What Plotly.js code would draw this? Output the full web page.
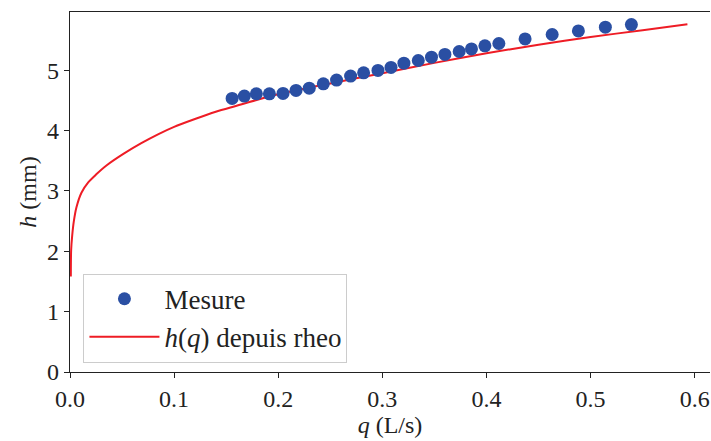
<!DOCTYPE html>
<html>
<head>
<meta charset="utf-8">
<script src="https://cdn.plot.ly/plotly-3.0.1.min.js"></script>
<style>html,body{margin:0;padding:0;background:#fff;}#chart{width:711px;height:441px;}</style>
</head>
<body>
<div id="chart"></div>
<script>
// Measured points
const qMesure = [0.1557, 0.1675, 0.179, 0.1915, 0.2046, 0.2171, 0.2298, 0.2433, 0.2560, 0.2695, 0.2820, 0.2958, 0.3083, 0.3207, 0.3345, 0.3472, 0.3601, 0.3738, 0.3856, 0.3985, 0.4119, 0.4371, 0.4631, 0.4883, 0.5142, 0.5392];
const hMesure = [4.532, 4.570, 4.608, 4.608, 4.615, 4.664, 4.702, 4.774, 4.835, 4.901, 4.955, 4.995, 5.045, 5.116, 5.160, 5.215, 5.260, 5.309, 5.352, 5.402, 5.441, 5.517, 5.590, 5.650, 5.711, 5.755];
// h(q) curve from rheology
const qRheo = [0.0008, 0.0011, 0.0021, 0.0037, 0.0062, 0.011, 0.0175, 0.025, 0.035, 0.052, 0.0685, 0.085, 0.1, 0.12, 0.14, 0.16, 0.18, 0.2, 0.25, 0.3, 0.35, 0.4, 0.45, 0.5, 0.55, 0.593];
const hRheo = [1.58, 2.02, 2.26, 2.50, 2.73, 2.97, 3.14, 3.27, 3.42, 3.62, 3.79, 3.94, 4.06, 4.19, 4.31, 4.41, 4.51, 4.60, 4.78, 4.95, 5.12, 5.28, 5.42, 5.55, 5.66, 5.76];

const xTicks = [0, 0.1, 0.2, 0.3, 0.4, 0.5, 0.6];
const xTickText = ['0.0', '0.1', '0.2', '0.3', '0.4', '0.5', '0.6'];
const yTicks = [0, 1, 2, 3, 4, 5];

const FONT = 'Liberation Serif, DejaVu Serif, serif';

const traces = [
  {
    x: qRheo, y: hRheo, type: 'scatter', mode: 'lines',
    name: '<i>h</i>(<i>q</i>) depuis rheo',
    line: {color: '#ee1c25', width: 2, shape: 'spline', smoothing: 0.8},
    legendrank: 2, legendgroup: 'b'
  },
  {
    x: qMesure, y: hMesure, type: 'scatter', mode: 'markers',
    name: 'Mesure',
    marker: {color: '#2a4fa3', size: 13},
    legendrank: 1, legendgroup: 'a'
  }
];

const layout = {
  width: 711, height: 441,
  margin: {l: 69.5, r: 1, t: 12, b: 68.5},
  paper_bgcolor: '#fff', plot_bgcolor: '#fff',
  font: {family: FONT, size: 24, color: '#222'},
  showlegend: true,
  legend: {
    x: 0.021, y: 0.273, xanchor: 'left', yanchor: 'top',
    bordercolor: '#cccccc', borderwidth: 1, bgcolor: 'rgba(255,255,255,0.8)',
    font: {family: FONT, size: 27, color: '#222'},
    traceorder: 'grouped', tracegroupgap: 0, itemwidth: 70
  },
  xaxis: {
    range: [0, 0.6147], tickvals: xTicks, ticktext: xTickText,
    showgrid: false, zeroline: false,
    showline: true, linecolor: '#222', linewidth: 1.2, mirror: true,
    ticks: 'outside', ticklen: 5, tickcolor: '#222', tickwidth: 1,
    tickfont: {family: FONT, size: 24, color: '#222'},
    title: {text: '<i>q</i> (L/s)', font: {family: FONT, size: 24, color: '#222'}, standoff: 4}
  },
  yaxis: {
    range: [0, 5.963], tickvals: yTicks,
    showgrid: false, zeroline: false,
    showline: true, linecolor: '#222', linewidth: 1.2,
    ticks: 'outside', ticklen: 5, tickcolor: '#222', tickwidth: 1,
    tickfont: {family: FONT, size: 24, color: '#222'},
    title: {text: '<i>h</i> (mm)', font: {family: FONT, size: 24, color: '#222'}, standoff: 3}
  }
};

Plotly.newPlot('chart', traces, layout, {displayModeBar: false, staticPlot: true});
</script>
</body>
</html>
